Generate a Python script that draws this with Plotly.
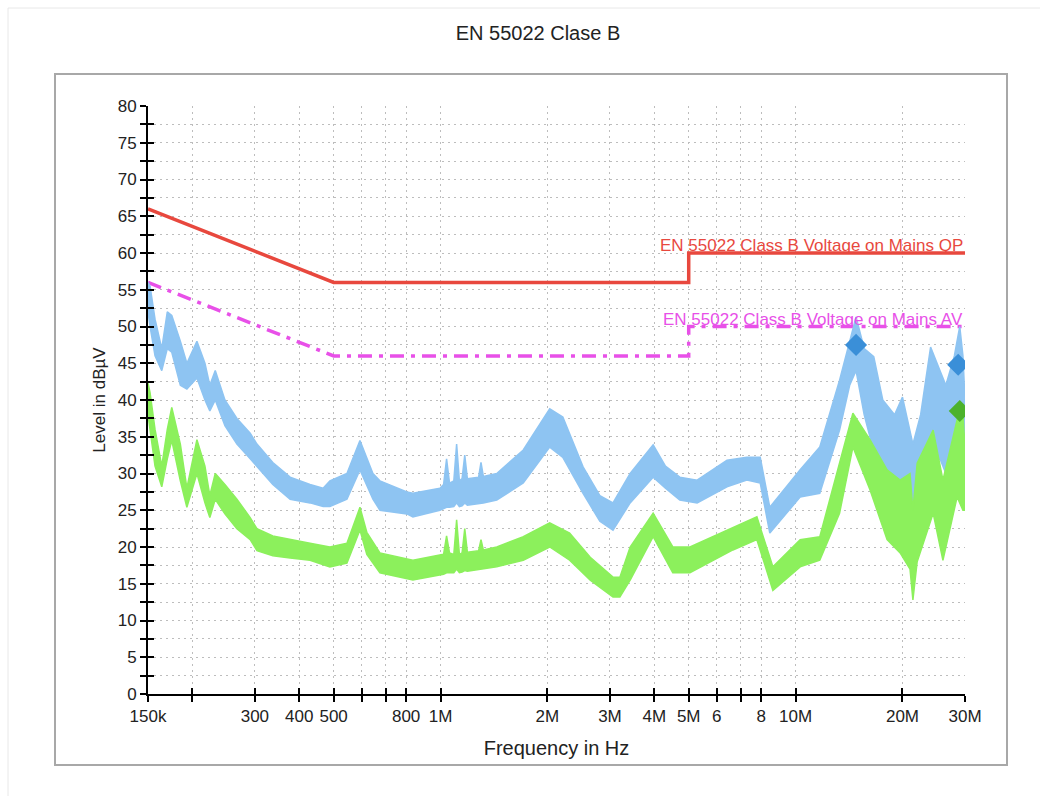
import numpy as np
import plotly.graph_objects as go

# ---------------- data (frequencies in MHz, levels in dBµV) ----------------
blue_f = [0.150, 0.152, 0.157, 0.164, 0.170, 0.175, 0.185, 0.193, 0.206, 0.217,
          0.224, 0.232, 0.247, 0.267, 0.291, 0.304, 0.337, 0.377, 0.429, 0.467,
          0.488, 0.545, 0.593, 0.645, 0.675, 0.804, 0.836, 0.996, 1.02, 1.04,
          1.06, 1.09, 1.11, 1.13, 1.15, 1.17, 1.19, 1.28, 1.30, 1.32, 1.44,
          1.71, 2.03, 2.21, 2.52, 2.81, 3.06,
          3.42, 3.97, 4.30, 4.72, 5.28, 6.41, 7.29, 7.95, 8.46, 10.3,
          11.7, 13.3, 14.2, 14.8, 15.6, 16.6, 17.6, 19.0, 20.0, 21.4,
          22.5, 24.0, 25.5, 26.5, 28.0, 29.0, 29.6, 30.0]
blue_hi = [56.0, 55.5, 51.0, 47.0, 52.0, 51.5, 48.0, 45.0, 48.0, 45.0,
           42.0, 44.0, 40.0, 37.5, 35.5, 34.0, 31.5, 29.5, 28.5, 28.0,
           29.0, 30.0, 34.5, 30.0, 29.0, 27.5, 27.3, 28.0, 28.5, 32.0,
           28.7, 29.0, 34.0, 29.0, 29.3, 32.5, 29.3, 29.5, 31.5, 29.6, 30.0,
           33.2, 38.8, 37.7, 30.9, 27.0, 26.0,
           30.0, 33.9, 31.0, 29.5, 29.1, 31.8, 32.2, 32.2, 25.4, 30.5,
           33.6, 42.7, 48.0, 51.3, 47.0, 45.9, 40.0, 38.0, 40.4, 34.0,
           38.0, 47.2, 44.0, 42.0, 46.0, 50.0, 46.0, 40.0]
blue_lo = [52.0, 50.0, 46.0, 44.0, 47.0, 46.5, 42.0, 41.5, 43.0, 40.0,
           38.5, 40.0, 36.5, 34.0, 32.0, 31.0, 28.5, 26.5, 26.0, 25.5,
           25.5, 26.5, 30.5, 26.5, 25.0, 24.5, 24.1, 25.0, 25.2, 25.4,
           25.4, 25.5, 26.0, 25.5, 25.6, 26.0, 25.7, 25.9, 26.0, 26.0, 26.4,
           28.7, 33.6, 32.2, 27.3, 23.5, 22.3,
           26.0, 29.5, 28.0, 26.4, 26.0, 28.2, 29.1, 28.7, 21.9, 26.8,
           27.3, 35.9, 42.0, 44.0, 38.0, 33.0, 30.0, 29.5, 28.0, 23.0,
           27.0, 31.0, 32.0, 30.0, 33.0, 35.0, 31.0, 27.0]

green_f = [0.150, 0.152, 0.157, 0.164, 0.170, 0.175, 0.185, 0.193, 0.206, 0.217,
           0.224, 0.232, 0.247, 0.267, 0.291, 0.304, 0.337, 0.377, 0.429, 0.488,
           0.545, 0.593, 0.620, 0.675, 0.836, 1.02, 1.04, 1.06, 1.09, 1.11, 1.13,
           1.15, 1.17, 1.19, 1.28, 1.30, 1.32, 1.44,
           1.71, 2.03, 2.31, 2.64, 3.06, 3.20, 3.42, 3.97, 4.51, 5.04,
           6.66, 7.78, 8.63, 10.3, 11.7, 13.3, 14.5, 16.2, 18.1, 19.7,
           21.0, 21.4, 22.0, 24.4, 26.0, 28.5, 29.6, 30.0]
green_hi = [42.3, 41.0, 36.0, 31.0, 36.0, 39.0, 34.0, 28.0, 34.6, 31.0,
            27.0, 30.0, 28.5, 26.5, 24.0, 22.5, 21.5, 21.0, 20.5, 20.0,
            20.5, 25.4, 22.0, 19.2, 18.2, 19.0, 21.5, 19.2, 19.0, 23.7, 19.0,
            19.2, 22.5, 19.3, 19.5, 21.0, 19.6, 20.0,
            21.4, 23.3, 21.9, 18.6, 15.9, 15.9, 20.0, 24.6, 20.0, 20.0,
            22.7, 24.1, 17.3, 21.0, 21.4, 31.4, 38.2, 34.6, 30.5, 29.1,
            30.0, 25.0, 31.4, 35.9, 29.1, 37.3, 38.0, 33.6]
green_lo = [38.0, 36.0, 31.0, 28.2, 32.0, 34.5, 29.0, 25.4, 30.0, 26.0,
            24.0, 26.5, 24.5, 22.5, 21.0, 19.5, 18.8, 18.5, 18.2, 17.3,
            17.8, 22.3, 19.0, 16.5, 15.5, 16.3, 16.5, 16.5, 16.5, 17.0, 16.5,
            16.6, 16.8, 16.7, 16.9, 17.0, 17.0, 17.3,
            18.2, 20.0, 18.2, 15.5, 13.2, 13.2, 15.5, 21.4, 16.5, 16.5,
            19.6, 21.0, 14.1, 17.3, 18.2, 24.6, 33.6, 27.8, 21.0, 19.2,
            17.0, 12.8, 18.0, 24.6, 18.2, 26.8, 25.0, 25.0]

qp_f = [0.15, 0.5, 5.0, 5.0, 30.0]
qp_lvl = [66, 56, 56, 60, 60]
av_f = [0.15, 0.5, 5.0, 5.0, 30.0]
av_lvl = [56, 46, 46, 50, 50]

blue_mk_f = [14.8, 28.7]
blue_mk_lvl = [47.5, 44.8]
green_mk_f = [29.0]
green_mk_lvl = [38.5]

x_tick_vals = [0.15, 0.2, 0.3, 0.4, 0.5, 0.6, 0.7, 0.8, 1, 2, 3, 4, 5, 6, 7, 8, 10, 20, 30]
x_tick_text = ["150k", "", "300", "400", "500", "", "", "800", "1M", "2M", "3M", "4M",
               "5M", "6", "", "8", "10M", "20M", "30M"]

y_tick_vals = [i * 2.5 for i in range(33)]
y_tick_text = [str(int(v)) if v % 5 == 0 else "" for v in y_tick_vals]

MHZ = 1e6
hz = lambda a: np.array(a) * MHZ

FONT = "Liberation Sans, Arial, Helvetica, sans-serif"
BLUE = "rgb(142,196,242)"
GREEN = "rgb(140,240,92)"
RED = "rgb(232,72,62)"
MAG = "rgb(232,80,232)"
TXT = "#222222"

fig = go.Figure()

# limit lines (QP drawn on the overlay axes so that they carry inner tick marks)
fig.add_trace(go.Scatter(x=hz(qp_f), y=qp_lvl, mode="lines", xaxis="x2", yaxis="y2",
                         line=dict(color=RED, width=3.5), hoverinfo="skip"))
fig.add_trace(go.Scatter(x=hz(av_f), y=av_lvl, mode="lines",
                         line=dict(color=MAG, width=3.5, dash="14px,7px,4px,7px"),
                         hoverinfo="skip"))

# blue band (peak trace)
fig.add_trace(go.Scatter(x=hz(blue_f), y=blue_lo, mode="lines",
                         line=dict(color=BLUE, width=1.5)))
fig.add_trace(go.Scatter(x=hz(blue_f), y=blue_hi, mode="lines", fill="tonexty",
                         fillcolor=BLUE, line=dict(color=BLUE, width=1.5)))
# green band (average trace)
fig.add_trace(go.Scatter(x=hz(green_f), y=green_lo, mode="lines",
                         line=dict(color=GREEN, width=1.5)))
fig.add_trace(go.Scatter(x=hz(green_f), y=green_hi, mode="lines", fill="tonexty",
                         fillcolor=GREEN, line=dict(color=GREEN, width=1.5)))

# markers
fig.add_trace(go.Scatter(x=hz(blue_mk_f), y=blue_mk_lvl, mode="markers",
                         marker=dict(symbol="diamond", size=17, color="rgb(58,143,216)")))
fig.add_trace(go.Scatter(x=hz(green_mk_f), y=green_mk_lvl, mode="markers",
                         marker=dict(symbol="diamond", size=17, color="rgb(76,178,44)")))

x0 = np.log10(0.15 * MHZ)
x1 = np.log10(30 * MHZ)

common_x = dict(type="log", range=[x0, x1], tickvals=hz(x_tick_vals), zeroline=False,
                tickwidth=2, tickcolor="black", ticklen=6)
common_y = dict(range=[0, 80], tickvals=y_tick_vals, zeroline=False,
                tickwidth=2, tickcolor="black", ticklen=6)

fig.update_layout(
    width=1045, height=796,
    margin=dict(l=148, r=80, t=106, b=102),
    paper_bgcolor="white", plot_bgcolor="white",
    showlegend=False,
    font=dict(family=FONT, color=TXT),
    title=dict(text="EN 55022 Clase B", x=538 / 1045, xanchor="center",
               y=1 - 33 / 796, yanchor="middle", font=dict(size=20, color=TXT)),
    xaxis=dict(**common_x, ticktext=x_tick_text,
               showgrid=True, gridcolor="#bdbdbd", gridwidth=1, griddash="2px,4px",
               showline=True, linecolor="black", linewidth=2, ticks="outside",
               tickfont=dict(size=17, color=TXT),
               title=dict(text="Frequency in Hz", font=dict(size=20, color=TXT),
                          standoff=16)),
    yaxis=dict(**common_y, ticktext=y_tick_text,
               showgrid=True, gridcolor="#bdbdbd", gridwidth=1, griddash="2px,4px",
               showline=True, linecolor="black", linewidth=2, ticks="outside",
               tickfont=dict(size=17, color=TXT),
               title=dict(text="Level in dBµV", font=dict(size=17, color=TXT),
                          standoff=8)),
    xaxis2=dict(**common_x, overlaying="x", anchor="y2", side="bottom",
                ticks="inside", showticklabels=False, showgrid=False, showline=False),
    yaxis2=dict(**common_y, overlaying="y", anchor="x2", side="left",
                ticks="inside", showticklabels=False, showgrid=False, showline=False),
    annotations=[
        dict(x=x1, y=60, xref="x", yref="y", text="EN 55022 Class B Voltage on Mains QP",
             showarrow=False, xanchor="right", yanchor="bottom", yshift=-4,
             font=dict(size=17, color=RED)),
        dict(x=x1, y=50, xref="x", yref="y", text="EN 55022 Class B Voltage on Mains AV",
             showarrow=False, xanchor="right", yanchor="bottom", yshift=-4,
             font=dict(size=17, color=MAG)),
    ],
    shapes=[
        dict(type="rect", xref="paper", yref="paper",
             x0=(55 - 148) / 817, x1=(1007 - 148) / 817,
             y0=(694 - 765) / 588, y1=(694 - 74) / 588,
             line=dict(color="#a8a8a8", width=2), layer="below"),
        dict(type="line", xref="paper", yref="paper",
             x0=(8 - 148) / 817, x1=(1040 - 148) / 817,
             y0=(694 - 8) / 588, y1=(694 - 8) / 588,
             line=dict(color="#e8e8e8", width=1)),
        dict(type="line", xref="paper", yref="paper",
             x0=(8 - 148) / 817, x1=(8 - 148) / 817,
             y0=(694 - 8) / 588, y1=(694 - 796) / 588,
             line=dict(color="#e8e8e8", width=1)),
    ],
)

fig.write_html("out.html")
